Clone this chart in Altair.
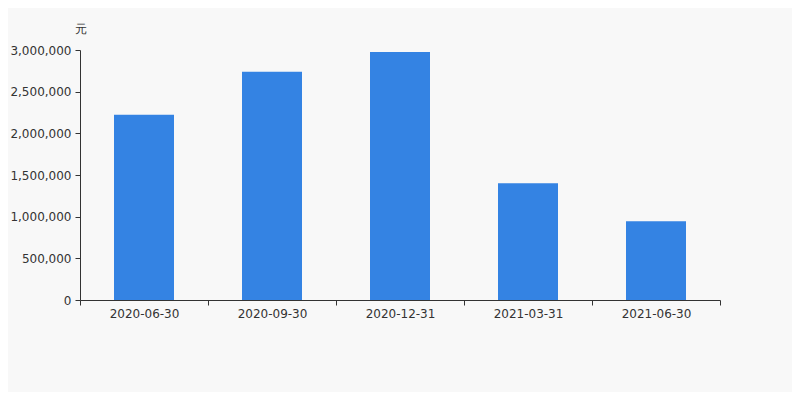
import altair as alt
import pandas as pd

dates = ["2020-06-30", "2020-09-30", "2020-12-31", "2021-03-31", "2021-06-30"]
values = [2224000, 2738000, 2975000, 1400000, 946000]

df = pd.DataFrame({"date": dates, "value": values})

chart = alt.Chart(df).mark_bar(color="#3483e3", size=60).encode(
    x=alt.X("date:N", sort=None, title=None,
            scale=alt.Scale(paddingInner=0, paddingOuter=0),
            axis=alt.Axis(labelAngle=0, tickBand="extent", labelPadding=3,
                          labelColor="#333333",
                          labelFont="DejaVu Sans", labelFontSize=12)),
    y=alt.Y("value:Q", scale=alt.Scale(domain=[0, 3000000], nice=False),
            axis=alt.Axis(title="元", titleAngle=0, titleX=0, titleY=-22,
                          titleAlign="center", titleBaseline="middle",
                          titleFont="DejaVu Sans", titleFontSize=12,
                          titleFontWeight="normal", titleColor="#333333",
                          values=[0, 500000, 1000000, 1500000, 2000000, 2500000, 3000000],
                          format=",.0f", grid=False, labelPadding=4,
                          labelColor="#333333", labelFont="DejaVu Sans",
                          labelFontSize=12)),
).properties(
    width=640, height=250,
    autosize=alt.AutoSizeParams(type="none"),
    padding={"left": 72, "top": 42, "right": 72, "bottom": 92},
    background="#f8f8f8",
).configure_view(stroke=None).configure_axis(
    ticks=True, tickSize=5, tickWidth=1, tickColor="#333333",
    domainColor="#333333", domainWidth=1, tickOpacity=1,
)

chart.save("out.html", embed_options={"renderer": "svg", "actions": False})
